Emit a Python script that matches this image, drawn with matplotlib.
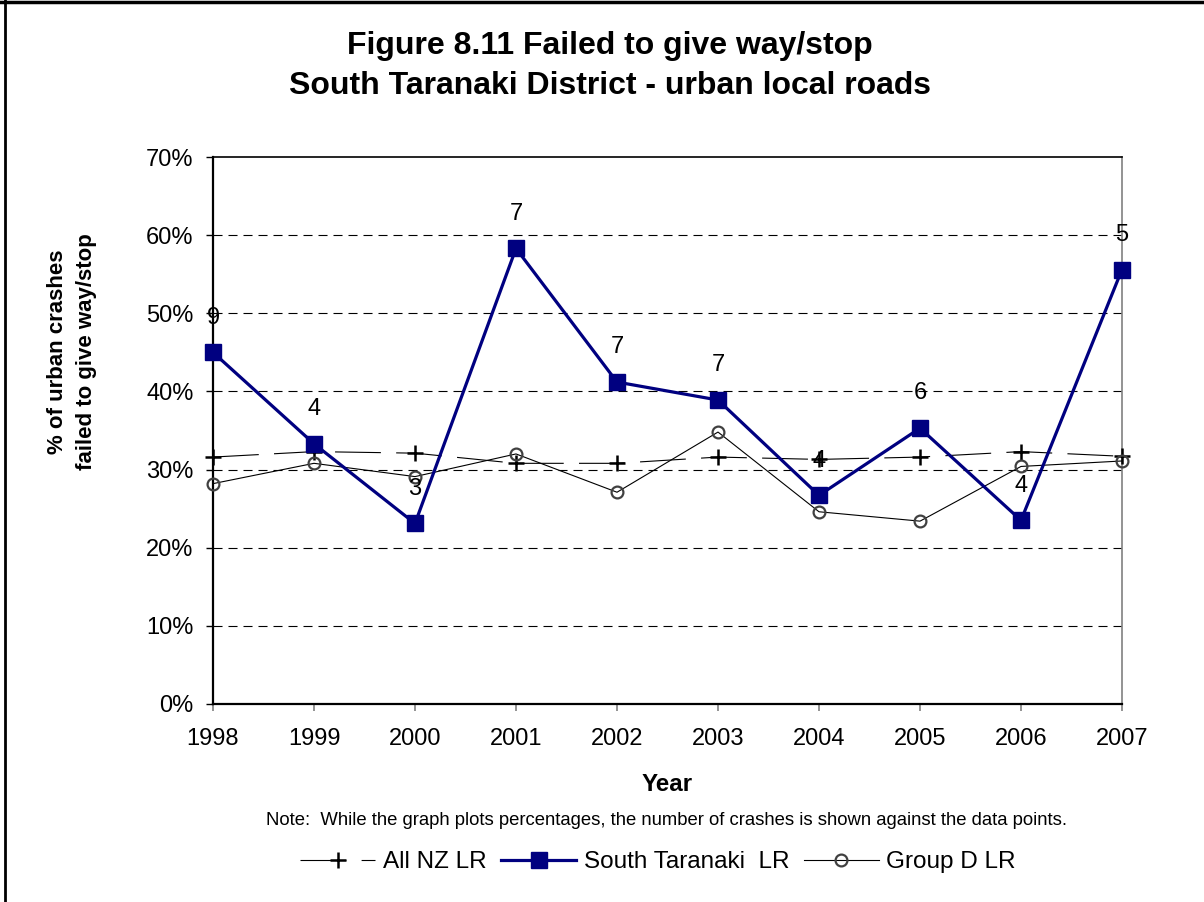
import matplotlib
matplotlib.use("Agg")
import matplotlib.pyplot as plt
from matplotlib.lines import Line2D
from matplotlib.ticker import FuncFormatter

plt.rcParams["font.family"] = ["Liberation Sans", "DejaVu Sans"]
plt.rcParams["lines.scale_dashes"] = False

# data
years = [1998, 1999, 2000, 2001, 2002, 2003, 2004, 2005, 2006, 2007]
all_nz = [0.316, 0.323, 0.321, 0.308, 0.308, 0.316, 0.313, 0.316, 0.323, 0.317]
south_taranaki = [0.450, 0.333, 0.231, 0.583, 0.412, 0.389, 0.267, 0.353, 0.235, 0.556]
group_d = [0.282, 0.308, 0.291, 0.320, 0.271, 0.348, 0.246, 0.234, 0.304, 0.311]
crash_counts = [9, 4, 3, 7, 7, 7, 4, 6, 4, 5]

W, H = 1204, 902
fig = plt.figure(figsize=(W / 100, H / 100), dpi=100)
ax = fig.add_axes([213 / W, 1 - 704 / H, (1122 - 213) / W, (704 - 157) / H])

# gridlines
for v in [0.1, 0.2, 0.3, 0.4, 0.5, 0.6]:
    ax.axhline(v, color="black", lw=0.8, ls=(0, (6.5, 4.3)), zorder=1)

ax.plot(years, all_nz, color="black", lw=0.8, ls=(0, (33, 11)),
        marker="+", ms=11, mew=1.8, mec="black", clip_on=False, zorder=3,
        label="All NZ LR")
ax.plot(years, south_taranaki, color="#000080", lw=2.3,
        marker="s", ms=11, mfc="#000080", mec="#000080", clip_on=False, zorder=4,
        label="South Taranaki  LR")
ax.plot(years, group_d, color="black", lw=0.8,
        marker="o", ms=8.5, mfc="none", mec="#404040", mew=1.6, clip_on=False, zorder=3,
        label="Group D LR")

# crash counts above the South Taranaki points
for yr, v, n in zip(years, south_taranaki, crash_counts):
    ax.annotate(str(n), (yr, v), xytext=(0, 25), textcoords="offset points",
                ha="center", va="center", fontsize=17, zorder=5)

ax.set_xlim(1998, 2007)
ax.set_ylim(0, 0.7)
ax.set_xticks(years)
ax.set_yticks([0, 0.1, 0.2, 0.3, 0.4, 0.5, 0.6, 0.7])
ax.yaxis.set_major_formatter(FuncFormatter(lambda v, p: f"{v * 100:.0f}%"))
ax.tick_params(axis="y", direction="out", length=5, width=1, color="black",
               labelsize=17, pad=9)
ax.tick_params(axis="x", direction="out", length=5, width=1.2, color="#808080",
               labelsize=17, pad=12)

ax.spines["left"].set_linewidth(1.6)
ax.spines["bottom"].set_linewidth(1.6)
ax.spines["top"].set_linewidth(1.2)
ax.spines["right"].set_color("#808080")
ax.spines["right"].set_linewidth(1.2)

fig.text(610 / W, 1 - 54 / H, "Figure 8.11 Failed to give way/stop",
         ha="center", va="baseline", fontsize=23, fontweight="bold")
fig.text(610 / W, 1 - 94 / H, "South Taranaki District - urban local roads",
         ha="center", va="baseline", fontsize=23, fontweight="bold")

fig.text(72 / W, 1 - 352 / H, "% of urban crashes\nfailed to give way/stop",
         rotation=90, ha="center", va="center", fontsize=16, fontweight="bold",
         multialignment="center", linespacing=1.55)

fig.text(667 / W, 1 - 791 / H, "Year", ha="center", va="baseline",
         fontsize=17.4, fontweight="bold")
fig.text(666 / W, 1 - 825 / H,
         "Note:  While the graph plots percentages, the number of crashes is shown against the data points.",
         ha="center", va="baseline", fontsize=13.3)

fig.legend(loc="center", bbox_to_anchor=(658 / W, 1 - 862 / H), ncol=3,
           frameon=False, fontsize=17.5, handlelength=3.1, handletextpad=0.3,
           columnspacing=0.6)

# chart area border (left and top visible)
fig.add_artist(Line2D([5 / W, 5 / W], [0, 1], color="black", lw=2,
                      transform=fig.transFigure))
fig.add_artist(Line2D([0, 1], [1 - 1.5 / H, 1 - 1.5 / H], color="black", lw=2.5,
                      transform=fig.transFigure))

fig.savefig("out.png", dpi=100)
